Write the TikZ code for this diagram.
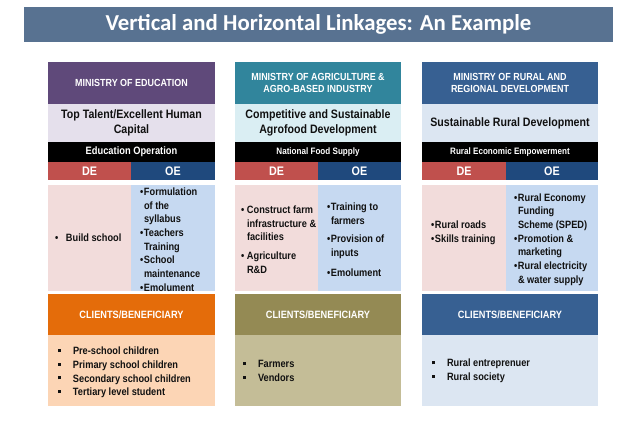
\documentclass[tikz,border=0pt]{standalone}
\usepackage{fontspec}
\setmainfont{Liberation Sans}
\newfontfamily\titlefont{Carlito}
\newfontfamily\nfont[FakeStretch=0.87]{Liberation Sans}
\definecolor{titlebar}{HTML}{587291}
\definecolor{purp}{HTML}{5F497A}
\definecolor{lav}{HTML}{E5E0EC}
\definecolor{teal}{HTML}{31859C}
\definecolor{aqua}{HTML}{DAEEF3}
\definecolor{rblue}{HTML}{376092}
\definecolor{rlight}{HTML}{DCE6F2}
\definecolor{dered}{HTML}{C0504D}
\definecolor{oeblue}{HTML}{1F497D}
\definecolor{pinkc}{HTML}{F2DCDB}
\definecolor{bluec}{HTML}{C6D9F1}
\definecolor{orng}{HTML}{E46C0A}
\definecolor{peach}{HTML}{FCD5B5}
\definecolor{olive}{HTML}{948A54}
\definecolor{lolive}{HTML}{C4BD97}
\definecolor{txt}{HTML}{111111}
\newcommand\bul{\makebox[4pt][l]{•}}
\newcommand\ind{\hspace*{4pt}}
\newcommand\sq{\makebox[15pt][l]{\raisebox{2.6pt}{\rule{3pt}{3pt}}}}
\tikzset{
  blk/.style={inner sep=0pt, outer sep=0pt, anchor=north west, align=center},
  minhead/.style={blk, text=white, font=\nfont\bfseries\fontsize{10.3}{12.5}\selectfont},
  bighead/.style={blk, text=txt, font=\nfont\bfseries\fontsize{12.2}{14.5}\selectfont},
  barhead/.style={blk, fill=black, text=white},
  deoe/.style={blk, text=white, font=\nfont\bfseries\fontsize{12.4}{14}\selectfont},
  listtxt/.style={inner sep=0pt, outer sep=0pt, anchor=west, align=left, text=txt,
     font=\nfont\bfseries\fontsize{10.6}{13.7}\selectfont},
  clients/.style={blk, text=white, font=\nfont\bfseries\fontsize{10.6}{12}\selectfont},
}
\begin{document}
\begin{tikzpicture}[x=1pt,y=-1pt]
\useasboundingbox[fill=white] (0,0) rectangle (638,442);
% title
\node[blk, fill=titlebar, minimum width=589, minimum height=35, text=white,
      font=\titlefont\bfseries\fontsize{22.8}{26}\selectfont] (title) at (24,7)
      {Vertical and Horizontal Linkages: An Example};

% ---------- column 1 ----------
\node[minhead, fill=purp, minimum width=167, minimum height=42] (h1) at (48,62) {MINISTRY OF EDUCATION};
\node[bighead, fill=lav, minimum width=167, minimum height=38] (g1) at (48,104) {Top Talent/Excellent Human\\Capital};
\node[barhead, minimum width=167, minimum height=20, font=\nfont\bfseries\fontsize{10.7}{12}\selectfont] (b1) at (48,142) {Education Operation};
\node[deoe, fill=dered, minimum width=83, minimum height=18] (de1) at (48,162) {DE};
\node[deoe, fill=oeblue, minimum width=84, minimum height=18] (oe1) at (131,162) {OE};
\node[blk, fill=pinkc, minimum width=83, minimum height=106] (dc1) at (48,185) {};
\node[blk, fill=bluec, minimum width=84, minimum height=106] (oc1) at (131,185) {};
\node[listtxt] (dl1) at (55,238) {\makebox[11pt][l]{•}Build school};
\node[listtxt] (ol1) at (140,239.5) {\bul Formulation\\\ind of the\\\ind syllabus\\\bul Teachers\\\ind Training\\\bul School\\\ind maintenance\\\bul Emolument};
\node[clients, fill=orng, minimum width=167, minimum height=41] (c1) at (48,294) {CLIENTS/BENEFICIARY};
\node[blk, fill=peach, minimum width=167, minimum height=71] (p1) at (48,335) {};
\node[listtxt] (pl1) at (58,372.5) {\sq Pre-school children\\\sq Primary school children\\\sq Secondary school children\\\sq Tertiary level student};

% ---------- column 2 ----------
\node[minhead, fill=teal, minimum width=166, minimum height=42] (h2) at (235,62) {MINISTRY OF AGRICULTURE \&\\AGRO-BASED INDUSTRY};
\node[bighead, fill=aqua, minimum width=166, minimum height=38] (g2) at (235,104) {Competitive and Sustainable\\Agrofood Development};
\node[barhead, minimum width=166, minimum height=20, font=\nfont\bfseries\fontsize{9.3}{11}\selectfont] (b2) at (235,142) {National Food Supply};
\node[deoe, fill=dered, minimum width=83, minimum height=18] (de2) at (235,162) {DE};
\node[deoe, fill=oeblue, minimum width=83, minimum height=18] (oe2) at (318,162) {OE};
\node[blk, fill=pinkc, minimum width=83, minimum height=106] (dc2) at (235,185) {};
\node[blk, fill=bluec, minimum width=83, minimum height=106] (oc2) at (318,185) {};
\node[listtxt] (dl2) at (241,239.5) {\makebox[6pt][l]{•}Construct farm\\\hspace*{6pt}infrastructure \&\\\hspace*{6pt}facilities\\[5pt]\makebox[6pt][l]{•}Agriculture\\\hspace*{6pt}R\&D};
\node[listtxt] (ol2) at (327,239.5) {\bul Training to\\\ind farmers\\[5pt]\bul Provision of\\\ind inputs\\[6pt]\bul Emolument};
\node[clients, fill=olive, minimum width=166, minimum height=41] (c2) at (235,294) {CLIENTS/BENEFICIARY};
\node[blk, fill=lolive, minimum width=166, minimum height=71] (p2) at (235,335) {};
\node[listtxt] (pl2) at (243,371) {\sq Farmers\\\sq Vendors};

% ---------- column 3 ----------
\node[minhead, fill=rblue, minimum width=176, minimum height=42] (h3) at (422,62) {MINISTRY OF RURAL AND\\REGIONAL DEVELOPMENT};
\node[bighead, fill=rlight, minimum width=176, minimum height=38] (g3) at (422,104) {Sustainable Rural Development};
\node[barhead, minimum width=176, minimum height=20, font=\nfont\bfseries\fontsize{9.3}{11}\selectfont] (b3) at (422,142) {Rural Economic Empowerment};
\node[deoe, fill=dered, minimum width=84, minimum height=18] (de3) at (422,162) {DE};
\node[deoe, fill=oeblue, minimum width=92, minimum height=18] (oe3) at (506,162) {OE};
\node[blk, fill=pinkc, minimum width=84, minimum height=106] (dc3) at (422,185) {};
\node[blk, fill=bluec, minimum width=92, minimum height=106] (oc3) at (506,185) {};
\node[listtxt] (dl3) at (431,232.5) {\bul Rural roads\\\bul Skills training};
\node[listtxt] (ol3) at (514,239.5) {\bul Rural Economy\\\ind Funding\\\ind Scheme (SPED)\\\bul Promotion \&\\\ind marketing\\\bul Rural electricity\\\ind \& water supply};
\node[clients, fill=rblue, minimum width=176, minimum height=41] (c3) at (422,294) {CLIENTS/BENEFICIARY};
\node[blk, fill=rlight, minimum width=176, minimum height=71] (p3) at (422,335) {};
\node[listtxt] (pl3) at (432,371) {\sq Rural entreprenuer\\\sq Rural society};
\end{tikzpicture}
\end{document}
